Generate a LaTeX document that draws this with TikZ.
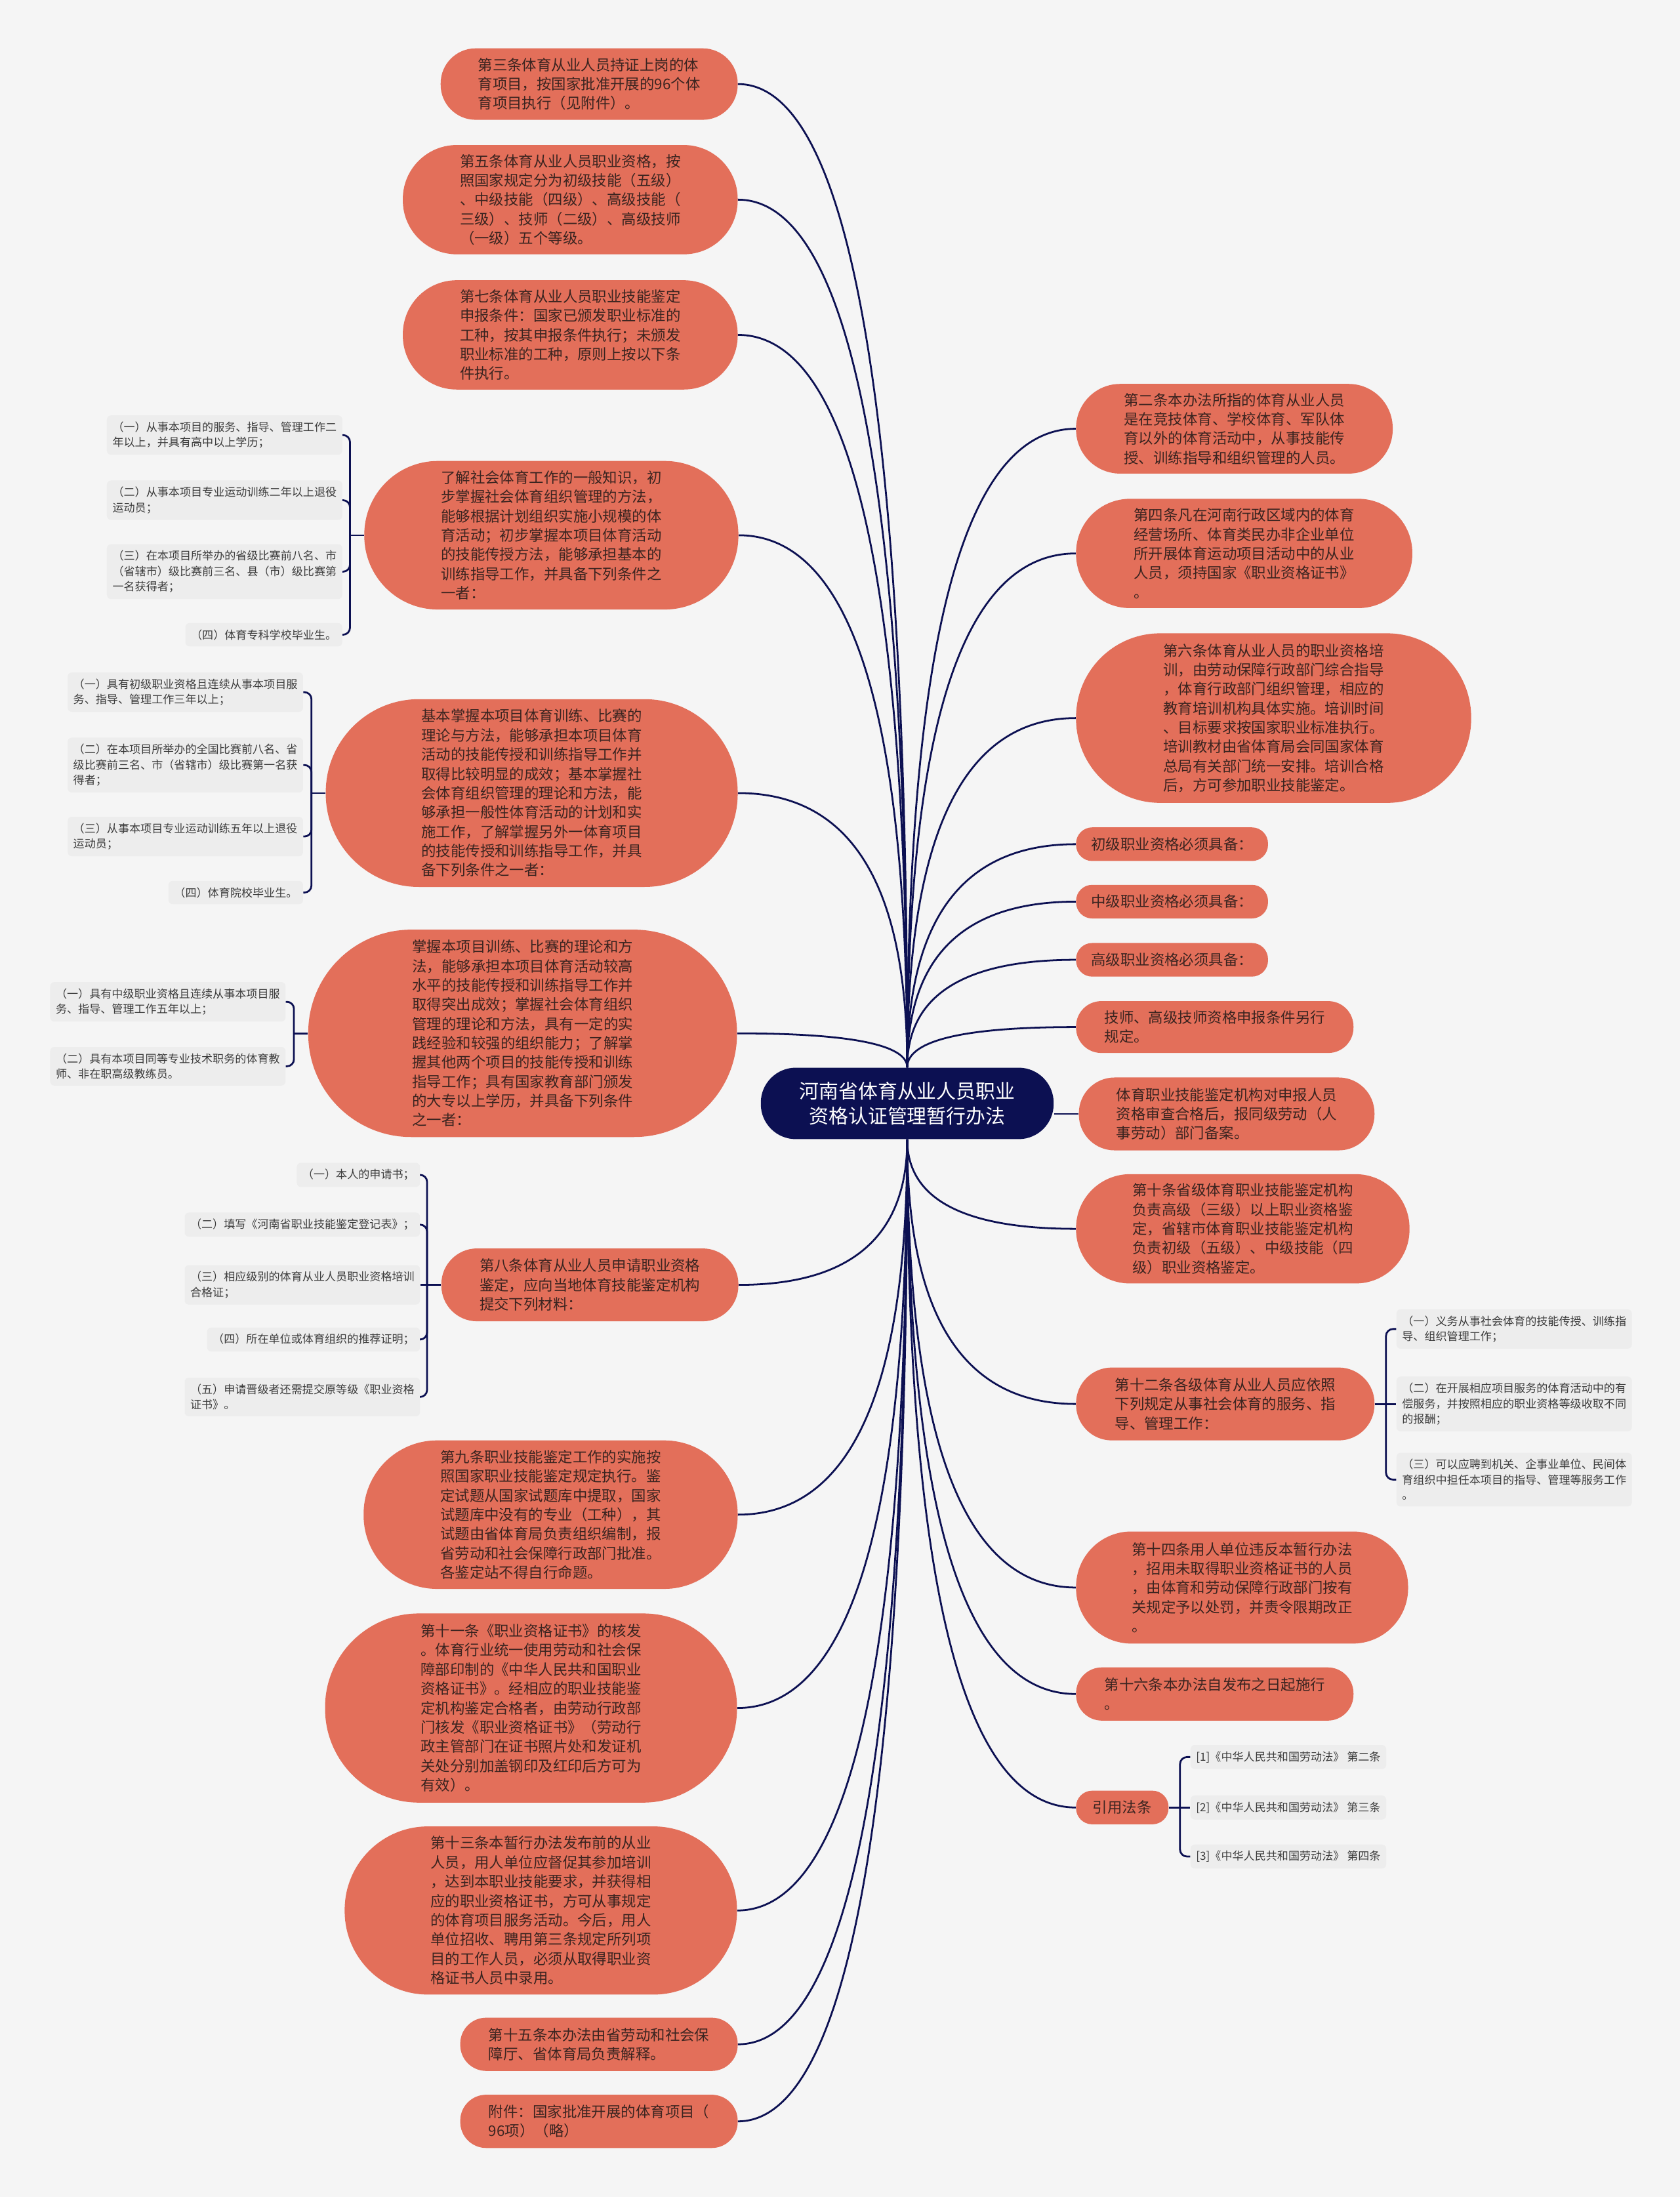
\documentclass[tikz,border=0pt]{standalone}
\usepackage{fontspec}
\setmainfont{Noto Sans CJK SC}
\usetikzlibrary{calc}

\definecolor{pagebg}{HTML}{F5F5F5}
\definecolor{artfill}{HTML}{E36F5A}
\definecolor{artink}{HTML}{3B2420}
\definecolor{hubfill}{HTML}{0C1052}
\definecolor{linkcol}{HTML}{0C1052}
\definecolor{leaffill}{HTML}{EDEDED}
\definecolor{leafink}{HTML}{3C3C3C}

\begin{document}
\begin{tikzpicture}[x=1pt, y=-1pt,
    art/.style={fill=artfill, text=artink, inner sep=0pt, align=left, font=\fontsize{10.5}{13.75}\selectfont},
    hub/.style={fill=hubfill, text=white, inner sep=0pt, align=center, font=\fontsize{14}{18}\selectfont},
    pill/.style 2 args={minimum width=#1, minimum height=#2, rounded corners=#2/2-0.5},
    leaf/.style={fill=leaffill, text=leafink, rounded corners=3pt, inner xsep=4pt, inner ysep=4.5pt, align=left, font=\fontsize{8}{11}\selectfont},
    link/.style={draw=linkcol, line width=1.3pt}]

    % Page
    \fill[pagebg] (0,0) rectangle (1199,1568);
    \path[use as bounding box] (0,0) rectangle (1199,1568);

    % Root
    \node[hub, pill={209}{51}] (root) at (647.5,787.5) {河南省体育从业人员职业\\资格认证管理暂行办法};

    % Left branches
    \node[art, pill={212}{51}] (s3) at (420.5,60) {第三条体育从业人员持证上岗的体\\育项目，按国家批准开展的96个体\\育项目执行（见附件）。};
    \node[art, pill={239}{78}] (s5) at (407,142.5) {第五条体育从业人员职业资格，按\\照国家规定分为初级技能（五级）\\、中级技能（四级）、高级技能（\\三级）、技师（二级）、高级技师\\（一级）五个等级。};
    \node[art, pill={239}{78}] (s7) at (407,239) {第七条体育从业人员职业技能鉴定\\申报条件：国家已颁发职业标准的\\工种，按其申报条件执行；未颁发\\职业标准的工种，原则上按以下条\\件执行。};
    \node[art, pill={267}{106}] (lv1) at (393.5,382) {了解社会体育工作的一般知识，初\\步掌握社会体育组织管理的方法，\\能够根据计划组织实施小规模的体\\育活动；初步掌握本项目体育活动\\的技能传授方法，能够承担基本的\\训练指导工作，并具备下列条件之\\一者：};
    \node[art, pill={294}{134}] (lv2) at (379.5,566) {基本掌握本项目体育训练、比赛的\\理论与方法，能够承担本项目体育\\活动的技能传授和训练指导工作并\\取得比较明显的成效；基本掌握社\\会体育组织管理的理论和方法，能\\够承担一般性体育活动的计划和实\\施工作，了解掌握另外一体育项目\\的技能传授和训练指导工作，并具\\备下列条件之一者：};
    \node[art, pill={306}{148}] (lv3) at (373,737.5) {掌握本项目训练、比赛的理论和方\\法，能够承担本项目体育活动较高\\水平的技能传授和训练指导工作并\\取得突出成效；掌握社会体育组织\\管理的理论和方法，具有一定的实\\践经验和较强的组织能力；了解掌\\握其他两个项目的技能传授和训练\\指导工作；具有国家教育部门颁发\\的大专以上学历，并具备下列条件\\之一者：};
    \node[art, pill={212}{52}] (s8) at (421,917) {第八条体育从业人员申请职业资格\\鉴定，应向当地体育技能鉴定机构\\提交下列材料：};
    \node[art, pill={267}{106}] (s9) at (393,1081) {第九条职业技能鉴定工作的实施按\\照国家职业技能鉴定规定执行。鉴\\定试题从国家试题库中提取，国家\\试题库中没有的专业（工种），其\\试题由省体育局负责组织编制，报\\省劳动和社会保障行政部门批准。\\各鉴定站不得自行命题。};
    \node[art, pill={294}{135}] (s11) at (379,1219) {第十一条《职业资格证书》的核发\\。体育行业统一使用劳动和社会保\\障部印制的《中华人民共和国职业\\资格证书》。经相应的职业技能鉴\\定机构鉴定合格者，由劳动行政部\\门核发《职业资格证书》（劳动行\\政主管部门在证书照片处和发证机\\关处分别加盖钢印及红印后方可为\\有效）。};
    \node[art, pill={280}{120}] (s13) at (386,1363.5) {第十三条本暂行办法发布前的从业\\人员，用人单位应督促其参加培训\\，达到本职业技能要求，并获得相\\应的职业资格证书，方可从事规定\\的体育项目服务活动。今后，用人\\单位招收、聘用第三条规定所列项\\目的工作人员，必须从取得职业资\\格证书人员中录用。};
    \node[art, pill={198}{38}] (s15) at (427.5,1459) {第十五条本办法由省劳动和社会保\\障厅、省体育局负责解释。};
    \node[art, pill={198}{38}] (att) at (427.5,1514) {附件：国家批准开展的体育项目（\\96项）（略）};

    % Right branches
    \node[art, pill={226}{64}] (s2) at (881,306) {第二条本办法所指的体育从业人员\\是在竞技体育、学校体育、军队体\\育以外的体育活动中，从事技能传\\授、训练指导和组织管理的人员。};
    \node[art, pill={240}{78}] (s4) at (888,395) {第四条凡在河南行政区域内的体育\\经营场所、体育类民办非企业单位\\所开展体育运动项目活动中的从业\\人员，须持国家《职业资格证书》\\。};
    \node[art, pill={282}{121}] (s6) at (909,512.5) {第六条体育从业人员的职业资格培\\训，由劳动保障行政部门综合指导\\，体育行政部门组织管理，相应的\\教育培训机构具体实施。培训时间\\、目标要求按国家职业标准执行。\\培训教材由省体育局会同国家体育\\总局有关部门统一安排。培训合格\\后，方可参加职业技能鉴定。};
    \node[art, pill={137}{24}] (q1) at (836.5,602.5) {初级职业资格必须具备：};
    \node[art, pill={137}{24}] (q2) at (836.5,643.5) {中级职业资格必须具备：};
    \node[art, pill={137}{24}] (q3) at (836.5,685) {高级职业资格必须具备：};
    \node[art, pill={198}{37}] (q4) at (867,733) {技师、高级技师资格申报条件另行\\规定。};
    \node[art, pill={211}{52}] (rec) at (875.5,795) {体育职业技能鉴定机构对申报人员\\资格审查合格后，报同级劳动（人\\事劳动）部门备案。};
    \node[art, pill={238}{78}] (s10) at (887,877) {第十条省级体育职业技能鉴定机构\\负责高级（三级）以上职业资格鉴\\定，省辖市体育职业技能鉴定机构\\负责初级（五级）、中级技能（四\\级）职业资格鉴定。};
    \node[art, pill={213}{52}] (s12) at (874.5,1002) {第十二条各级体育从业人员应依照\\下列规定从事社会体育的服务、指\\导、管理工作：};
    \node[art, pill={237}{80}] (s14) at (886.5,1133) {第十四条用人单位违反本暂行办法\\，招用未取得职业资格证书的人员\\，由体育和劳动保障行政部门按有\\关规定予以处罚，并责令限期改正\\。};
    \node[art, pill={198}{38}] (s16) at (867,1209) {第十六条本办法自发布之日起施行\\。};
    \node[art, pill={66}{24}] (refs) at (801,1290) {引用法条};

    % Conditions, left side
    \node[leaf, anchor=east] (lv1a) at (244.5,310.5) {（一）从事本项目的服务、指导、管理工作二\\年以上，并具有高中以上学历；};
    \node[leaf, anchor=east] (lv1b) at (244.5,357) {（二）从事本项目专业运动训练二年以上退役\\运动员；};
    \node[leaf, anchor=east] (lv1c) at (244.5,408) {（三）在本项目所举办的省级比赛前八名、市\\（省辖市）级比赛前三名、县（市）级比赛第\\一名获得者；};
    \node[leaf, anchor=east] (lv1d) at (244.5,453) {（四）体育专科学校毕业生。};

    \node[leaf, anchor=east] (lv2a) at (216.5,494) {（一）具有初级职业资格且连续从事本项目服\\务、指导、管理工作三年以上；};
    \node[leaf, anchor=east] (lv2b) at (216.5,546) {（二）在本项目所举办的全国比赛前八名、省\\级比赛前三名、市（省辖市）级比赛第一名获\\得者；};
    \node[leaf, anchor=east] (lv2c) at (216.5,597) {（三）从事本项目专业运动训练五年以上退役\\运动员；};
    \node[leaf, anchor=east] (lv2d) at (216.5,637) {（四）体育院校毕业生。};

    \node[leaf, anchor=east] (lv3a) at (204,715) {（一）具有中级职业资格且连续从事本项目服\\务、指导、管理工作五年以上；};
    \node[leaf, anchor=east] (lv3b) at (204,761) {（二）具有本项目同等专业技术职务的体育教\\师、非在职高级教练员。};

    \node[leaf, anchor=east] (s8a) at (300,838.5) {（一）本人的申请书；};
    \node[leaf, anchor=east] (s8b) at (300,874) {（二）填写《河南省职业技能鉴定登记表》；};
    \node[leaf, anchor=east] (s8c) at (300,917) {（三）相应级别的体育从业人员职业资格培训\\合格证；};
    \node[leaf, anchor=east] (s8d) at (300,956) {（四）所在单位或体育组织的推荐证明；};
    \node[leaf, anchor=east] (s8e) at (300,997) {（五）申请晋级者还需提交原等级《职业资格\\证书》。};

    % Conditions, right side
    \node[leaf, anchor=west] (s12a) at (996.5,948.5) {（一）义务从事社会体育的技能传授、训练指\\导、组织管理工作；};
    \node[leaf, anchor=west] (s12b) at (996.5,1002) {（二）在开展相应项目服务的体育活动中的有\\偿服务，并按照相应的职业资格等级收取不同\\的报酬；};
    \node[leaf, anchor=west] (s12c) at (996.5,1056) {（三）可以应聘到机关、企事业单位、民间体\\育组织中担任本项目的指导、管理等服务工作\\。};

    \node[leaf, anchor=west] (refa) at (849.5,1254) {[1]《中华人民共和国劳动法》 第二条};
    \node[leaf, anchor=west] (refb) at (849.5,1290) {[2]《中华人民共和国劳动法》 第三条};
    \node[leaf, anchor=west] (refc) at (849.5,1325) {[3]《中华人民共和国劳动法》 第四条};

    % Connectors from the root
    \foreach \n in {s2,s4,s6,q1,q2,q3,q4}
        \draw[link] (root.north) .. controls ($(root.north)!.667!(root.north |- \n.west)$) and ($(\n.west)!.667!(root.north |- \n.west)$) .. (\n.west);
    \foreach \n in {s10,s12,s14,s16,refs}
        \draw[link] (root.south) .. controls ($(root.south)!.667!(root.south |- \n.west)$) and ($(\n.west)!.667!(root.south |- \n.west)$) .. (\n.west);
    \foreach \n in {s3,s5,s7,lv1,lv2,lv3}
        \draw[link] (root.north) .. controls ($(root.north)!.667!(root.north |- \n.east)$) and ($(\n.east)!.667!(root.north |- \n.east)$) .. (\n.east);
    \foreach \n in {s8,s9,s11,s13,s15,att}
        \draw[link] (root.south) .. controls ($(root.south)!.667!(root.south |- \n.east)$) and ($(\n.east)!.667!(root.south |- \n.east)$) .. (\n.east);
    \draw[link] (root.east |- rec.west) -- (rec.west);

    % Brackets to the conditions
    \draw[link] (lv1.west) -- ++(-10,0) coordinate (lv1j);
    \foreach \l in {lv1a,lv1b,lv1c,lv1d}
        \draw[link, rounded corners=5pt] (lv1j) |- (\l.east);
    \draw[link] (lv2.west) -- ++(-10,0) coordinate (lv2j);
    \foreach \l in {lv2a,lv2b,lv2c,lv2d}
        \draw[link, rounded corners=5pt] (lv2j) |- (\l.east);
    \draw[link] (lv3.west) -- ++(-10,0) coordinate (lv3j);
    \foreach \l in {lv3a,lv3b}
        \draw[link, rounded corners=5pt] (lv3j) |- (\l.east);
    \draw[link] (s8.west) -- (s8c.east);
    \path (s8.west) ++(-10,0) coordinate (s8j);
    \foreach \l in {s8a,s8b,s8d,s8e}
        \draw[link, rounded corners=5pt] (s8j) |- (\l.east);

    \draw[link] (s12.east) -- (s12b.west);
    \path (s12.east) ++(8,0) coordinate (s12j);
    \foreach \l in {s12a,s12c}
        \draw[link, rounded corners=5pt] (s12j) |- (\l.west);
    \draw[link] (refs.east) -- (refb.west);
    \path (refs.east) ++(8,0) coordinate (refj);
    \foreach \l in {refa,refc}
        \draw[link, rounded corners=5pt] (refj) |- (\l.west);
\end{tikzpicture}
\end{document}
